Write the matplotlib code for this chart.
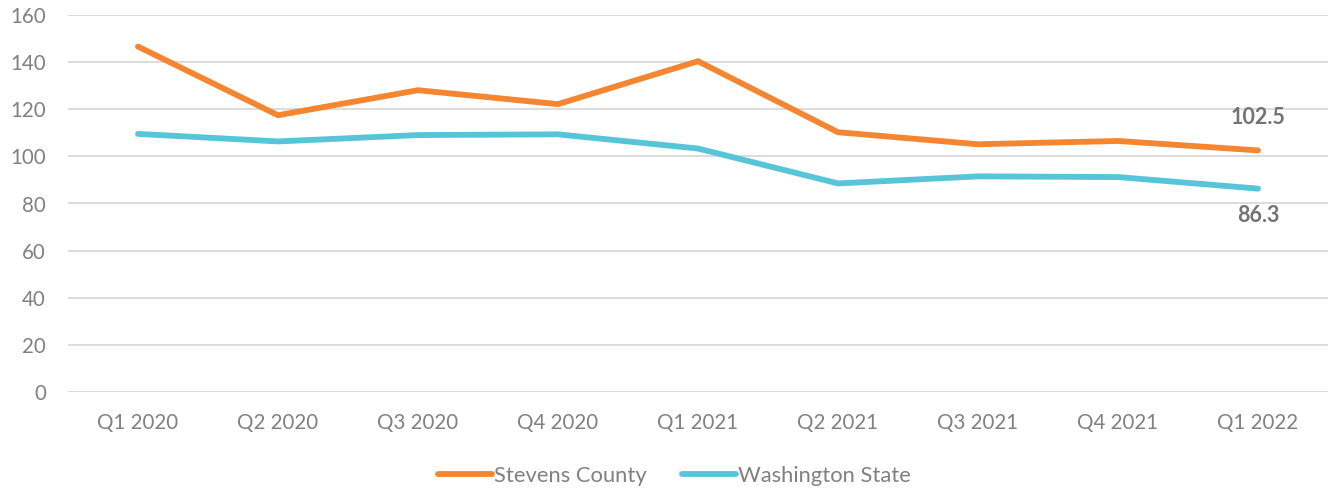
import matplotlib
matplotlib.use("Agg")
import matplotlib.pyplot as plt

quarters = ["Q1 2020", "Q2 2020", "Q3 2020", "Q4 2020", "Q1 2021",
            "Q2 2021", "Q3 2021", "Q4 2021", "Q1 2022"]
stevens = [146.5, 117.4, 128.0, 122.1, 140.3, 110.2, 105.1, 106.5, 102.5]
washington = [109.5, 106.3, 109.0, 109.3, 103.3, 88.5, 91.5, 91.2, 86.3]
yticks = [0, 20, 40, 60, 80, 100, 120, 140, 160]

ORANGE = "#F58631"
CYAN = "#56C5D8"
GRAY = "#808080"

plt.rcParams['font.family'] = ['Lato', 'DejaVu Sans']

W, H = 1328, 490
fig = plt.figure(figsize=(W / 100, H / 100), dpi=100)
ax = fig.add_axes([68 / W, 1 - 392.3 / H, (W - 68) / W, (392.3 - 14.7) / H])

x = list(range(len(quarters)))
ax.plot(x, stevens, color=ORANGE, lw=4.2, solid_capstyle='round', solid_joinstyle='miter', label="Stevens County", zorder=3)
ax.plot(x, washington, color=CYAN, lw=4.2, solid_capstyle='round', solid_joinstyle='miter', label="Washington State", zorder=3)

ax.set_xlim(-0.5, len(quarters) - 0.5)
ax.set_ylim(0, 160)
ax.set_yticks(yticks)
ax.set_xticks(x)
ax.set_xticklabels(quarters)
ax.yaxis.grid(True, color="#D9D9D9", lw=1.3)
ax.set_axisbelow(True)
for s in ax.spines.values():
    s.set_visible(False)
ax.tick_params(axis='both', length=0, labelsize=14.8, labelcolor=GRAY)
ax.tick_params(axis='x', pad=15)
ax.tick_params(axis='y', pad=16)

ax.annotate(f"{stevens[-1]}", (x[-1], stevens[-1]), xytext=(0, 33), textcoords='offset pixels',
            ha='center', va='center', fontsize=15.5, fontweight='bold', color="#737373")
ax.annotate(f"{washington[-1]}", (x[-1], washington[-1]), xytext=(0, -27), textcoords='offset pixels',
            ha='center', va='center', fontsize=15.5, fontweight='bold', color="#737373")

leg = fig.legend(loc='center', bbox_to_anchor=(0.508, 1 - 476 / H), ncol=2, frameon=False,
                 fontsize=15.8, handlelength=2.45, handletextpad=0.1, columnspacing=1.6)
for t in leg.get_texts():
    t.set_color(GRAY)

fig.savefig("out.png", dpi=100)
